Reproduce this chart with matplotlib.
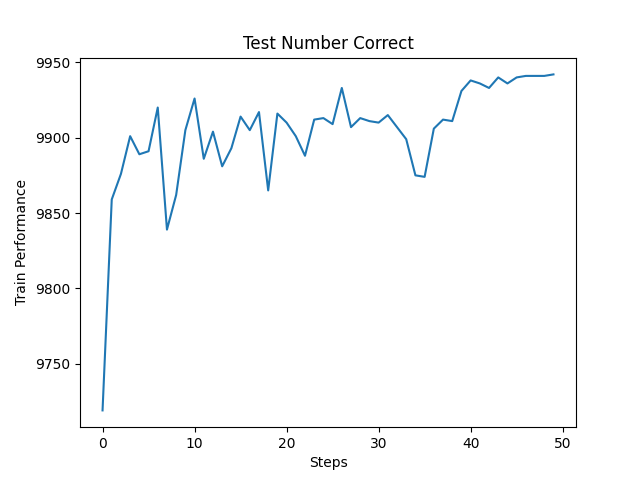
import matplotlib
matplotlib.use("Agg")
import matplotlib.pyplot as plt

steps = list(range(50))
test_correct = [9719, 9859, 9876, 9901, 9889, 9891, 9920, 9839, 9862, 9905,
                9926, 9886, 9904, 9881, 9893, 9914, 9905, 9917, 9865, 9916,
                9910, 9901, 9888, 9912, 9913, 9909, 9933, 9907, 9913, 9911,
                9910, 9915, 9907, 9899, 9875, 9874, 9906, 9912, 9911, 9931,
                9938, 9936, 9933, 9940, 9936, 9940, 9941, 9941, 9941, 9942]

fig, ax = plt.subplots(figsize=(6.4, 4.8), dpi=100)
ax.plot(steps, test_correct)
ax.set_title("Test Number Correct")
ax.set_xlabel("Steps")
ax.set_ylabel("Train Performance")
fig.savefig("out.png", dpi=100)
